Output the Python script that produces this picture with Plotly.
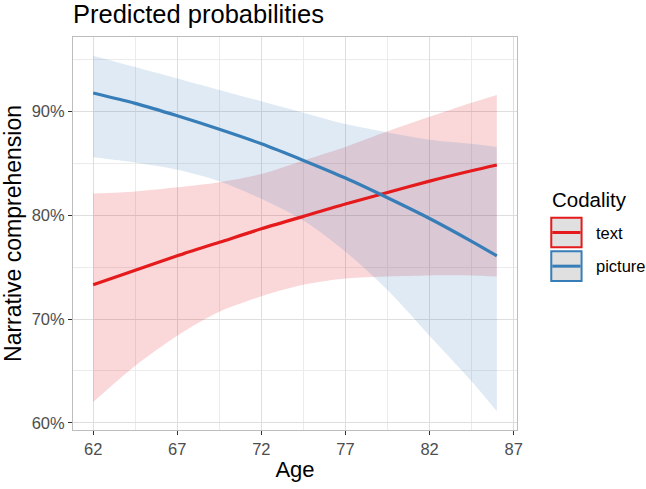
import plotly.graph_objects as go

# ---- data (values in %) ----
age = [62, 64.5, 67, 69.5, 72, 74.5, 77, 79.5, 82, 84.5, 86]

text_fit   = [73.3, 74.7, 76.1, 77.4, 78.7, 79.9, 81.1, 82.2, 83.3, 84.3, 84.85]
text_upper = [82.1, 82.3, 82.7, 83.2, 84.0, 85.3, 86.6, 88.1, 89.5, 90.85, 91.6]
text_lower = [62.0, 65.5, 68.4, 70.7, 72.2, 73.3, 73.9, 74.1, 74.2, 74.2, 74.1]

pic_fit   = [91.8, 90.8, 89.6, 88.3, 86.9, 85.3, 83.6, 81.7, 79.7, 77.5, 76.1]
pic_upper = [95.4, 94.3, 93.2, 92.1, 91.0, 89.9, 88.8, 88.0, 87.3, 86.9, 86.6]
pic_lower = [85.6, 85.1, 84.4, 83.3, 81.6, 79.5, 76.5, 72.8, 68.4, 64.0, 61.1]

x_ticks = [62, 67, 72, 77, 82, 87]
y_ticks = [60, 70, 80, 90]
y_tick_labels = ["60%", "70%", "80%", "90%"]
series_names = ["text", "picture"]

RED = "#E41A1C"
BLUE = "#377EB8"
RED_FILL = "rgba(228,26,28,0.17)"
BLUE_FILL = "rgba(55,126,184,0.16)"

fig = go.Figure()

for lo, up, fc in [(text_lower, text_upper, RED_FILL), (pic_lower, pic_upper, BLUE_FILL)]:
    fig.add_trace(go.Scatter(x=age, y=lo, mode="lines", line=dict(width=0, shape="spline", smoothing=0.8),
                             showlegend=False, hoverinfo="skip"))
    fig.add_trace(go.Scatter(x=age, y=up, mode="lines", line=dict(width=0, shape="spline", smoothing=0.8),
                             fill="tonexty", fillcolor=fc, showlegend=False, hoverinfo="skip"))

for y, c, n in [(text_fit, RED, series_names[0]), (pic_fit, BLUE, series_names[1])]:
    fig.add_trace(go.Scatter(x=age, y=y, mode="lines", name=n,
                             line=dict(color=c, width=3.2, shape="spline", smoothing=0.8),
                             showlegend=False))

FONT = "Liberation Sans, Arial, sans-serif"

fig.update_layout(
    width=646, height=489,
    margin=dict(l=70, r=129, t=37, b=55),
    plot_bgcolor="white", paper_bgcolor="white",
    font=dict(family=FONT, color="black"),
    title=dict(text="Predicted probabilities", x=0, xref="paper", xanchor="left",
               y=1 - 14 / 489, yref="container", yanchor="middle",
               font=dict(size=25.5, color="black")),
    showlegend=False,
)

axis_common = dict(
    showline=True, linecolor="#BDBDBD", linewidth=1, mirror=True,
    showgrid=True, gridcolor="#DEDEDE", gridwidth=1,
    ticks="outside", ticklen=4, tickcolor="#333333", tickwidth=1,
    tickfont=dict(size=16.5, color="#4D4D4D", family=FONT),
    zeroline=False,
)

fig.update_xaxes(
    **axis_common,
    range=[60.8, 87.2], tickvals=x_ticks,
    minor=dict(dtick=5, tick0=64.5, showgrid=True, gridcolor="#EBEBEB", gridwidth=0.6, ticks=""),
    title=dict(text="Age", font=dict(size=22, color="black"), standoff=4),
)
fig.update_yaxes(
    **axis_common,
    range=[59.3, 97.2], tickvals=y_ticks, ticktext=y_tick_labels,
    minor=dict(dtick=10, tick0=65, showgrid=True, gridcolor="#EBEBEB", gridwidth=0.6, ticks=""),
    title=dict(text="Narrative comprehension", font=dict(size=23, color="black"), standoff=4),
)

# ---- manual legend (ggplot-like keys) ----
PW, PH, L, T = 447.0, 397.0, 70.0, 37.0
def px(x): return (x - L) / PW
def py(y): return 1 - (y - T) / PH

fig.add_annotation(text="Codality", xref="paper", yref="paper", x=px(550), y=py(201),
                   xanchor="left", yanchor="middle", showarrow=False,
                   font=dict(size=20.5, color="black", family=FONT))
keys = [(RED, 218.5, series_names[0]), (BLUE, 252.5, series_names[1])]
for col, top, lab in keys:
    fig.add_shape(type="rect", xref="paper", yref="paper",
                  x0=px(551.5), x1=px(582), y0=py(top + 31), y1=py(top + 1),
                  fillcolor="#E0E0E0", line=dict(color=col, width=2))
    fig.add_shape(type="line", xref="paper", yref="paper",
                  x0=px(552.5), x1=px(581), y0=py(top + 16), y1=py(top + 16),
                  line=dict(color=col, width=3))
    fig.add_annotation(text=lab, xref="paper", yref="paper", x=px(595), y=py(top + 16),
                       xanchor="left", yanchor="middle", showarrow=False,
                       font=dict(size=16.5, color="black", family=FONT))

fig.write_html("out.html")
